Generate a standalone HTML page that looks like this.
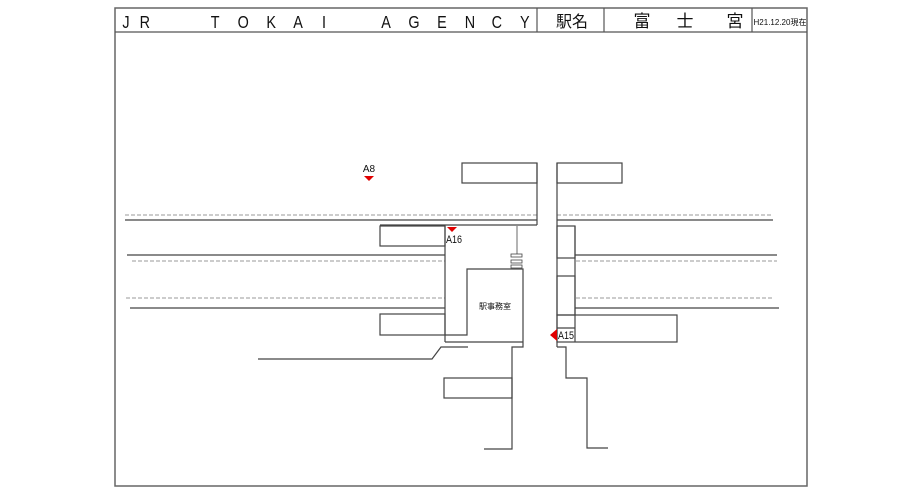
<!DOCTYPE html>
<html><head><meta charset="utf-8"><style>
body{margin:0;background:#fff;width:919px;height:491px;overflow:hidden}
svg{position:absolute;left:0;top:0}
</style></head><body>
<svg width="919" height="491" viewBox="0 0 919 491" xmlns="http://www.w3.org/2000/svg">
<g fill="none" stroke="#555" stroke-width="1.2">
<rect x="115" y="8" width="692" height="478" stroke="#666" stroke-width="1.5"/>
<line x1="115" y1="32" x2="807" y2="32"/>
<line x1="537" y1="8" x2="537" y2="32"/>
<line x1="604" y1="8" x2="604" y2="32"/>
<line x1="752" y1="8" x2="752" y2="32"/>
</g>
<g font-family="Liberation Sans, sans-serif" font-size="18" fill="#111" text-anchor="middle" transform="scale(0.8,1)">
<text x="157.5" y="28">J</text><text x="181" y="28">R</text>
<text x="269" y="28">T</text><text x="304" y="28">O</text><text x="339" y="28">K</text><text x="372.5" y="28">A</text><text x="405" y="28">I</text>
<text x="482.5" y="28">A</text><text x="517.5" y="28">G</text><text x="552.5" y="28">E</text><text x="587.5" y="28">N</text><text x="621" y="28">C</text><text x="656" y="28">Y</text>
</g>
<g font-family="Liberation Sans, Noto Sans CJK JP, sans-serif" fill="#111" text-anchor="middle">
<text x="572" y="27" font-size="16">駅名</text>
<text x="642" y="27" font-size="17">富</text><text x="685" y="27" font-size="17">士</text><text x="735" y="27" font-size="17">宮</text>
<text x="780" y="25" font-size="8">H21.12.20現在</text>
</g>
<g fill="none" stroke="#999" stroke-width="1" stroke-dasharray="4,2">
<line x1="125" y1="215" x2="537" y2="215"/><line x1="557" y1="215" x2="773" y2="215"/>
<line x1="132" y1="261" x2="445" y2="261"/><line x1="576" y1="261" x2="777" y2="261"/>
<line x1="126" y1="298" x2="445" y2="298"/><line x1="576" y1="298" x2="773" y2="298"/>
</g>
<g fill="none" stroke="#444" stroke-width="1.2">
<line x1="125" y1="220" x2="537" y2="220"/><line x1="557" y1="220" x2="773" y2="220"/>
<line x1="127" y1="255" x2="445" y2="255"/><line x1="575" y1="255" x2="777" y2="255"/>
<line x1="130" y1="308" x2="445" y2="308"/><line x1="575" y1="308" x2="779" y2="308"/>
<rect x="462" y="163" width="75" height="20"/>
<rect x="557" y="163" width="65" height="20"/>
<line x1="537" y1="163" x2="537" y2="225"/>
<line x1="557" y1="163" x2="557" y2="347"/>
<line x1="380" y1="225" x2="537" y2="225"/>
<rect x="380" y="226" width="65" height="20"/>
<line x1="445" y1="226" x2="445" y2="342"/>
<rect x="380" y="314" width="65" height="21"/>
<polyline points="445,335 467,335 467,269 523,269 523,347 512,347 512,449 484,449"/>
<line x1="445" y1="342" x2="523" y2="342"/>
<line x1="517" y1="226" x2="517" y2="254" stroke-width="0.8"/>
<rect x="511" y="254" width="11" height="3" stroke-width="0.8"/>
<rect x="511" y="260" width="11" height="3" stroke-width="0.8"/>
<rect x="511" y="265" width="11" height="3" stroke-width="0.8"/>
<rect x="444" y="378" width="68" height="20"/>
<polyline points="258,359 432,359 441,347 468,347"/>
<rect x="557" y="226" width="18" height="32"/>
<rect x="557" y="276" width="18" height="39"/>
<line x1="575" y1="226" x2="575" y2="342"/>
<rect x="557" y="315" width="120" height="27"/>
<line x1="557" y1="328" x2="575" y2="328"/>
<polyline points="557,347 566,347 566,378 587,378 587,448 608,448"/>
</g>
<g fill="#e00000">
<polygon points="364,176 374,176 369,181"/>
<polygon points="447,227 457,227 452,232"/>
<polygon points="557,329 557,341 550,335"/>
</g>
<g font-family="Liberation Sans, Noto Sans CJK JP, sans-serif" fill="#111">
<text x="369" y="172" font-size="10" text-anchor="middle">A8</text>
<text x="446" y="243" font-size="11" textLength="16" lengthAdjust="spacingAndGlyphs">A16</text>
<text x="558" y="339" font-size="11" textLength="16" lengthAdjust="spacingAndGlyphs">A15</text>
<text x="495" y="309" font-size="8" text-anchor="middle">駅事務室</text>
</g>
</svg>
</body></html>
